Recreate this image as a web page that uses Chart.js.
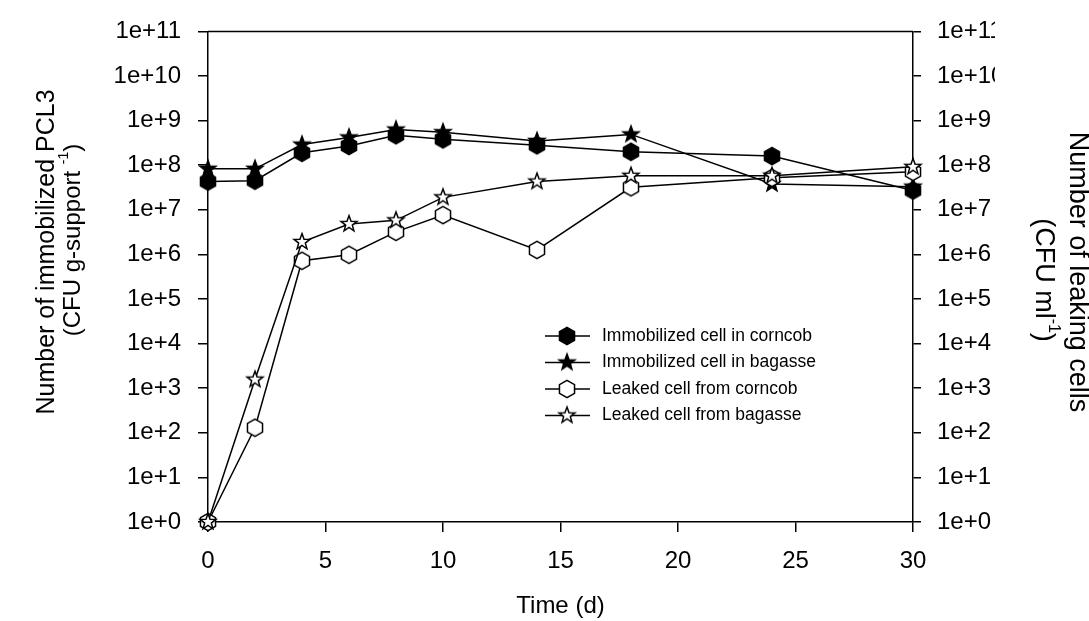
<!DOCTYPE html>
<html>
<head>
<meta charset="utf-8">
<script src="https://cdn.jsdelivr.net/npm/chart.js@4/dist/chart.umd.min.js"></script>
<style>
  html, body { margin: 0; padding: 0; background: #fff; }
</style>
</head>
<body>
<canvas id="chart" width="1089" height="621"></canvas>
<script>
const days = [0, 2, 4, 6, 8, 10, 14, 18, 24, 30];
const immobCorncob = [4.3e7, 4.5e7, 1.9e8, 2.7e8, 4.7e8, 3.8e8, 2.8e8, 2.0e8, 1.6e8, 2.7e7];
const immobBagasse = [8.3e7, 8.3e7, 2.9e8, 4.2e8, 6.3e8, 5.5e8, 3.5e8, 4.9e8, 3.8e7, 3.3e7];
const leakCorncob = [1, 1.3e2, 7.2e5, 9.8e5, 3.2e6, 7.6e6, 1.26e6, 3.2e7, 5.2e7, 7.1e7];
const leakBagasse = [1, 1.56e3, 1.9e6, 4.8e6, 5.8e6, 1.9e7, 4.3e7, 5.8e7, 5.8e7, 9.2e7];
const seriesLabels = ['Immobilized cell in corncob', 'Immobilized cell in bagasse',
                      'Leaked cell from corncob', 'Leaked cell from bagasse'];
const exponents = [0, 1, 2, 3, 4, 5, 6, 7, 8, 9, 10, 11];
const xTicks = [0, 5, 10, 15, 20, 25, 30];

const FONT = '"Liberation Sans", Arial, sans-serif';
Chart.defaults.font.family = FONT;
Chart.defaults.color = '#000';

const fmt = v => '1e+' + Math.round(Math.log10(v));

// marker images: pointy-top hexagon and five point star
function marker(shape, filled) {
  const c = document.createElement('canvas');
  c.width = 24; c.height = 24;
  const g = c.getContext('2d');
  g.translate(12, 12);
  g.beginPath();
  if (shape === 'hex') {
    for (let i = 0; i < 6; i++) {
      const a = -Math.PI / 2 + i * Math.PI / 3;
      g.lineTo(8.7 * Math.cos(a), 8.7 * Math.sin(a));
    }
  } else {
    for (let i = 0; i < 10; i++) {
      const r = i % 2 ? 3.5 : 8.4;
      const a = -Math.PI / 2 + i * Math.PI / 5;
      g.lineTo(r * Math.cos(a), r * Math.sin(a));
    }
  }
  g.closePath();
  g.fillStyle = filled ? '#000' : '#fff';
  g.fill();
  g.lineWidth = 1.5;
  g.strokeStyle = '#000';
  g.stroke();
  return c;
}

function series(i, data, style, axis) {
  return {
    label: seriesLabels[i],
    data: days.map((d, k) => ({ x: d, y: data[k] })),
    yAxisID: axis,
    borderColor: '#000',
    borderWidth: 1.5,
    pointStyle: style,
    pointRadius: 9,
    tension: 0,
    fill: false,
    clip: false,
    order: 3 - i
  };
}

// one line of text centred at (x, y), rotated, with optional superscript parts
function rich(ctx, parts, x, y, rot, size) {
  const normal = size + 'px ' + FONT, small = Math.round(size * 0.6) + 'px ' + FONT;
  ctx.save();
  ctx.translate(x, y);
  ctx.rotate(rot);
  ctx.textAlign = 'left';
  ctx.textBaseline = 'middle';
  let w = 0;
  parts.forEach(p => { ctx.font = p[1] ? small : normal; w += ctx.measureText(p[0]).width; });
  let cx = -w / 2;
  parts.forEach(p => {
    ctx.font = p[1] ? small : normal;
    ctx.fillText(p[0], cx, p[1] ? -size * 0.38 : 0);
    cx += ctx.measureText(p[0]).width;
  });
  ctx.restore();
}

const extras = {
  id: 'extras',
  afterDraw(chart) {
    const { ctx, chartArea: ca, scales } = chart;
    ctx.save();
    ctx.strokeStyle = '#000';
    ctx.lineWidth = 1.5;
    ctx.beginPath();
    ctx.moveTo(ca.left, ca.top);
    ctx.lineTo(ca.right, ca.top);
    ctx.stroke();

    // right tick labels, cut off at the edge like the original
    const s = scales.y2;
    ctx.font = '24px ' + FONT;
    ctx.fillStyle = '#000';
    ctx.textAlign = 'left';
    ctx.textBaseline = 'middle';
    const lx = s.left + 8 + 16;
    const clipX = lx + ctx.measureText('1e+1').width + 4;
    ctx.save();
    ctx.beginPath();
    ctx.rect(0, 0, clipX, chart.height);
    ctx.clip();
    s.ticks.forEach(t => ctx.fillText(fmt(t.value), lx, s.getPixelForValue(t.value)));
    ctx.restore();

    // axis titles
    rich(ctx, [['Number of immobilized PCL3', false]], 47, 252, -Math.PI / 2, 25);
    rich(ctx, [['(CFU g-support ', false], ['-1', true], [')', false]], 73, 240, -Math.PI / 2, 24);
    rich(ctx, [['Number of leaking cells', false]], 1077, 272, Math.PI / 2, 27);
    rich(ctx, [['(CFU ml', false], ['-1', true], [')', false]], 1043, 280, Math.PI / 2, 27);

    // legend
    ctx.font = '17.5px ' + FONT;
    ctx.textBaseline = 'middle';
    chart.data.datasets.forEach((d, i) => {
      const y = 336 + i * 26.5;
      ctx.beginPath();
      ctx.moveTo(545, y);
      ctx.lineTo(590, y);
      ctx.stroke();
      ctx.drawImage(d.pointStyle, 567 - 12, y - 12);
      ctx.fillText(d.label, 602, y);
    });
    ctx.restore();
  }
};

const powers = exponents.map(e => Math.pow(10, e));

function yScale(position, tickLen, pad, width, showLabels) {
  return {
    type: 'logarithmic',
    position,
    min: 1,
    max: 1e11,
    afterBuildTicks: sc => { sc.ticks = powers.map(v => ({ value: v })); },
    afterFit: sc => { sc.width = width; },
    ticks: {
      font: { size: 24 },
      padding: pad,
      color: showLabels ? '#000' : 'rgba(0,0,0,0)',
      callback: v => fmt(v)
    },
    grid: { drawOnChartArea: false, tickLength: tickLen, color: '#000', lineWidth: 1.5 },
    border: { display: true, color: '#000', width: 1.5 }
  };
}

new Chart(document.getElementById('chart'), {
  type: 'line',
  data: {
    datasets: [
      series(0, immobCorncob, marker('hex', true), 'y'),
      series(1, immobBagasse, marker('star', true), 'y'),
      series(2, leakCorncob, marker('hex', false), 'y2'),
      series(3, leakBagasse, marker('star', false), 'y2')
    ]
  },
  options: {
    responsive: false,
    animation: false,
    layout: { padding: { top: 26, left: 0, right: 0, bottom: 0 } },
    plugins: { legend: { display: false }, tooltip: { enabled: false } },
    scales: {
      x: {
        type: 'linear',
        min: 0,
        max: 30,
        afterBuildTicks: sc => { sc.ticks = xTicks.map(v => ({ value: v })); },
        afterFit: sc => { sc.height = 99; },
        ticks: { font: { size: 24 }, padding: 15 },
        grid: { drawOnChartArea: false, tickLength: 10, color: '#000', lineWidth: 1.5 },
        border: { display: true, color: '#000', width: 1.5 },
        title: { display: true, text: 'Time (d)', font: { size: 24 }, padding: { top: 0, bottom: 0 } }
      },
      y: yScale('left', 10, 17, 208, true),
      y2: yScale('right', 8, 16, 176, false)
    }
  },
  plugins: [extras]
});
</script>
</body>
</html>
